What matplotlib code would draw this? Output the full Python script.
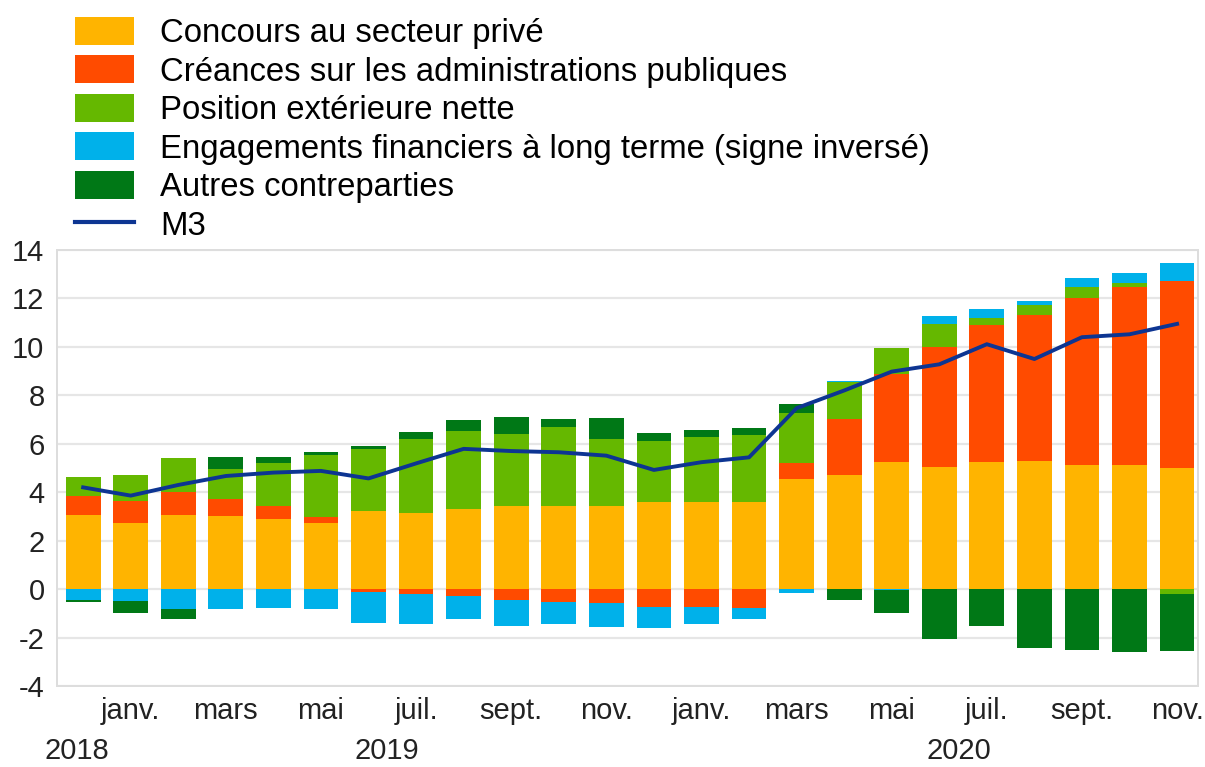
import numpy as np
import matplotlib
matplotlib.use("Agg")
import matplotlib.pyplot as plt
from matplotlib.patches import Patch
from matplotlib.lines import Line2D

plt.rcParams['font.family'] = ['Liberation Sans', 'DejaVu Sans']
plt.rcParams['axes.unicode_minus'] = False

# Dec 2018 .. Nov 2020, annual growth contributions (pp)
private = [3.06, 2.74, 3.06, 3.03, 2.89, 2.74, 3.22, 3.13, 3.31, 3.45, 3.43, 3.44,
           3.60, 3.60, 3.60, 4.53, 4.71, 5.26, 5.03, 5.26, 5.29, 5.12, 5.12, 5.01]
government = [0.80, 0.91, 0.94, 0.70, 0.54, 0.25, -0.10, -0.22, -0.29, -0.45, -0.52, -0.56,
              -0.73, -0.73, -0.76, 0.66, 2.31, 3.61, 4.96, 5.65, 6.03, 6.89, 7.37, 7.72]
external = [0.78, 1.06, 1.43, 1.22, 1.76, 2.55, 2.57, 3.07, 3.21, 2.94, 3.28, 2.75,
            2.52, 2.67, 2.76, 2.10, 1.52, 1.08, 0.95, 0.28, 0.42, 0.46, 0.14, -0.20]
longterm = [-0.43, -0.50, -0.83, -0.83, -0.76, -0.84, -1.28, -1.20, -0.95, -1.08, -0.93, -1.02,
            -0.88, -0.69, -0.49, -0.15, 0.05, -0.05, 0.34, 0.38, 0.16, 0.37, 0.42, 0.75]
other = [-0.09, -0.48, -0.40, 0.49, 0.28, 0.13, 0.13, 0.30, 0.45, 0.73, 0.33, 0.86,
         0.34, 0.30, 0.31, 0.35, -0.43, -0.95, -2.04, -1.53, -2.45, -2.52, -2.59, -2.36]
m3 = [4.20, 3.86, 4.30, 4.67, 4.81, 4.88, 4.57, 5.19, 5.79, 5.70, 5.65, 5.51,
      4.92, 5.24, 5.44, 7.47, 8.20, 8.98, 9.28, 10.11, 9.50, 10.40, 10.52, 10.95]

labels = ['Concours au secteur privé',
          'Créances sur les administrations publiques',
          'Position extérieure nette',
          'Engagements financiers à long terme (signe inversé)',
          'Autres contreparties']
colors = ['#FFB400', '#FF4B00', '#65B800', '#00B1EA', '#007816']
month_ticks = [1, 3, 5, 7, 9, 11, 13, 15, 17, 19, 21, 23]
month_labels = ['janv.', 'mars', 'mai', 'juil.', 'sept.', 'nov.',
                'janv.', 'mars', 'mai', 'juil.', 'sept.', 'nov.']
years = ['2018', '2019', '2020']
year_pos = [-0.13, 6.39, 18.42]

fig = plt.figure(figsize=(12.05, 7.67), dpi=100)
ax = fig.add_axes([57 / 1205, 1 - 686 / 767, 1141 / 1205, 436 / 767])

x = np.arange(len(private))
pos_base = np.zeros(len(x))
neg_base = np.zeros(len(x))
for vals, col in zip([private, government, external, longterm, other], colors):
    v = np.array(vals)
    p = np.where(v > 0, v, 0)
    n = np.where(v < 0, v, 0)
    ax.bar(x, p, 0.73, bottom=pos_base, color=col, linewidth=0, zorder=2)
    ax.bar(x, n, 0.73, bottom=neg_base, color=col, linewidth=0, zorder=2)
    pos_base += p
    neg_base += n

ax.plot(x, m3, color='#0D3592', lw=2.8, zorder=3)

ax.set_xlim(-0.55, 23.44)
ax.set_ylim(-4, 14)
ax.set_yticks(range(-4, 15, 2))
ax.set_xticks(month_ticks)
ax.set_xticklabels(month_labels)
ax.tick_params(length=0, labelsize=21, colors='#222222')
ax.tick_params(axis='x', pad=8)
ax.tick_params(axis='y', pad=9)
ax.grid(axis='y', color='#e6e6e6', lw=1.6, zorder=0)
ax.set_axisbelow(True)
for s in ax.spines.values():
    s.set_color('#dddddd')
    s.set_linewidth(1.4)

for yr, xp in zip(years, year_pos):
    ax.text(xp, -0.148, yr, transform=ax.get_xaxis_transform(),
            ha='center', va='center', fontsize=21, color='#222222')

handles = [Patch(facecolor=c, edgecolor='none') for c in colors]
handles.append(Line2D([], [], color='#0D3592', lw=3))
fig.legend(handles, labels + ['M3'], loc='upper left',
           bbox_to_anchor=(75 / 1205, 1 - 17 / 767), frameon=False,
           fontsize=23.7, handlelength=1.8, handleheight=0.92,
           handletextpad=0.78, labelspacing=0.19, borderpad=0, borderaxespad=0)

fig.savefig('out.png', dpi=100)
